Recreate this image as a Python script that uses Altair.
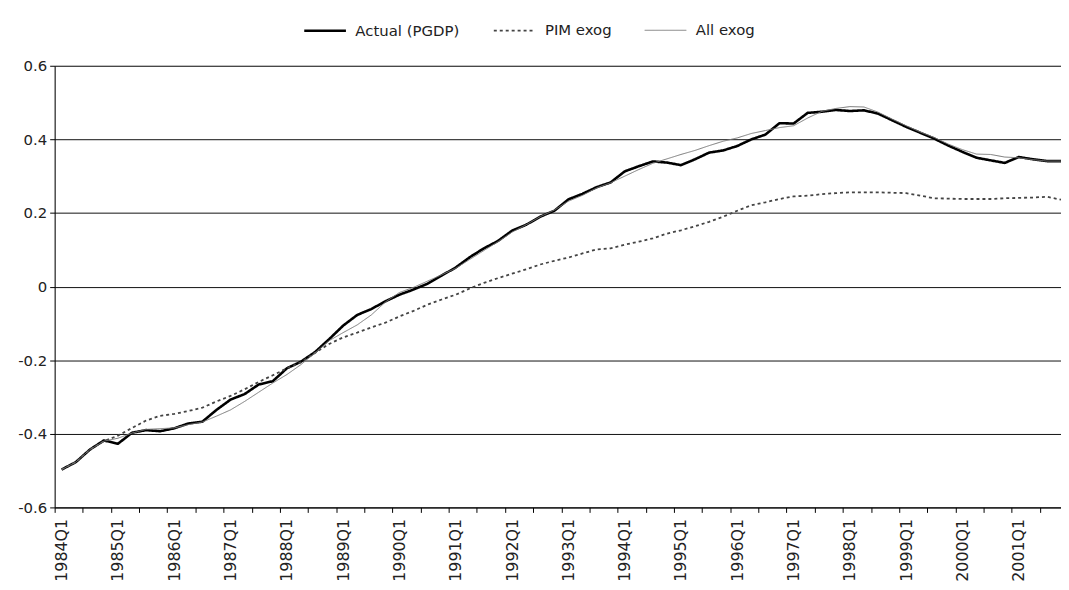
import json
import altair as alt
import pandas as pd

quarters = [f"{y}Q{q}" for y in range(1984, 2002) for q in range(1, 5)]

series_names = ["Actual (PGDP)", "PIM exog", "All exog"]

actual = [-0.497, -0.477, -0.443, -0.418, -0.427, -0.397, -0.390, -0.393, -0.385, -0.372,
          -0.367, -0.335, -0.307, -0.292, -0.266, -0.257, -0.222, -0.204, -0.178, -0.143,
          -0.106, -0.077, -0.061, -0.040, -0.022, -0.008, 0.008, 0.030, 0.052, 0.080,
          0.104, 0.124, 0.152, 0.168, 0.190, 0.206, 0.237, 0.252, 0.270, 0.283,
          0.313, 0.327, 0.340, 0.337, 0.330, 0.346, 0.364, 0.370, 0.382, 0.400,
          0.413, 0.444, 0.443, 0.472, 0.475, 0.480, 0.477, 0.479, 0.470, 0.452,
          0.434, 0.418, 0.402, 0.383, 0.366, 0.350, 0.343, 0.336, 0.352, 0.346,
          0.341, 0.341]

pim_exog = [-0.497, -0.477, -0.443, -0.420, -0.405, -0.384, -0.364, -0.351, -0.346, -0.338,
            -0.329, -0.312, -0.297, -0.279, -0.259, -0.241, -0.222, -0.206, -0.180, -0.156,
            -0.138, -0.125, -0.111, -0.098, -0.081, -0.066, -0.049, -0.035, -0.022, -0.005,
            0.010, 0.023, 0.035, 0.047, 0.060, 0.070, 0.079, 0.090, 0.101, 0.104,
            0.114, 0.122, 0.131, 0.144, 0.153, 0.164, 0.176, 0.190, 0.206, 0.221,
            0.229, 0.238, 0.245, 0.247, 0.251, 0.254, 0.256, 0.256, 0.256, 0.255,
            0.254, 0.247, 0.240, 0.239, 0.238, 0.238, 0.238, 0.240, 0.241, 0.242,
            0.244, 0.236]

all_exog = [-0.497, -0.477, -0.443, -0.420, -0.412, -0.398, -0.388, -0.386, -0.384, -0.375,
            -0.368, -0.352, -0.335, -0.312, -0.287, -0.262, -0.239, -0.212, -0.180, -0.147,
            -0.125, -0.104, -0.077, -0.042, -0.016, -0.002, 0.015, 0.032, 0.050, 0.074,
            0.098, 0.122, 0.148, 0.168, 0.190, 0.208, 0.232, 0.248, 0.268, 0.282,
            0.300, 0.318, 0.335, 0.347, 0.359, 0.370, 0.383, 0.395, 0.404, 0.416,
            0.424, 0.432, 0.437, 0.458, 0.476, 0.484, 0.489, 0.488, 0.474, 0.455,
            0.437, 0.420, 0.405, 0.387, 0.372, 0.360, 0.359, 0.352, 0.350, 0.345,
            0.341, 0.341]

y_ticks = [-0.6, -0.4, -0.2, 0.0, 0.2, 0.4, 0.6]

rows = []
for k, (name, vals) in enumerate(zip(series_names, [actual, pim_exog, all_exog])):
    for i, v in enumerate(vals):
        rows.append({"i": i, "quarter": quarters[i], "series": name, "value": v, "ord": k})
df = pd.DataFrame(rows)

W, H = 1014, 445
n_dom = [-0.5, 71.0]
px_per_q = W / (n_dom[1] - n_dom[0])

x_tick_vals = [i - 0.5 for i in range(0, 72, 2)]
label_expr = (
    "(round(datum.value + 0.5) % 4 == 0) ? "
    + json.dumps(quarters)
    + "[round(datum.value + 0.5)] : ''"
)

FONT = "DejaVu Sans"

chart = (
    alt.Chart(df)
    .mark_line(strokeJoin="round", clip=True)
    .encode(
        x=alt.X(
            "i:Q",
            scale=alt.Scale(domain=n_dom, nice=False, zero=False),
            axis=alt.Axis(
                values=x_tick_vals,
                labelExpr=label_expr,
                labelAngle=-90,
                labelOffset=px_per_q / 2,
                labelOverlap=False,
                labelFlush=False,
                labelBound=False,
                labelPadding=6,
                tickSize=5,
                tickColor="#000",
                domainColor="#000",
                grid=False,
                title=None,
                labelFont=FONT,
                labelFontSize=16,
                labelColor="#222",
            ),
        ),
        y=alt.Y(
            "value:Q",
            scale=alt.Scale(domain=[-0.6, 0.6], nice=False, zero=False),
            axis=alt.Axis(
                values=y_ticks,
                labelExpr="datum.value == 0 ? '0' : (datum.value < 0 ? '-' : '') + format(abs(datum.value), '.1f')",
                grid=True,
                gridColor="#111",
                gridWidth=1,
                tickSize=5,
                tickColor="#000",
                domainColor="#000",
                title=None,
                labelPadding=3,
                labelFont=FONT,
                labelFontSize=15,
                labelColor="#222",
            ),
        ),
        color=alt.Color(
            "series:N",
            scale=alt.Scale(domain=series_names, range=["#000000", "#444444", "#7a7a7a"]),
            legend=alt.Legend(
                title=None,
                orient="none",
                legendX=250,
                legendY=-58,
                direction="horizontal",
                columns=3,
                symbolType="stroke",
                symbolSize=1764,
                labelOffset=8,
                columnPadding=30,
                padding=0,
                labelFont=FONT,
                labelFontSize=15,
                labelColor="#222",
            ),
        ),
        strokeDash=alt.StrokeDash(
            "series:N",
            scale=alt.Scale(domain=series_names, range=[[1, 0], [3, 3], [1, 0]]),
            legend=None,
        ),
        strokeWidth=alt.StrokeWidth(
            "series:N",
            scale=alt.Scale(domain=series_names, range=[2.6, 1.0, 1.0]),
            legend=None,
        ),
        order=alt.Order("ord:Q"),
    )
    .properties(
        width=W,
        height=H,
        autosize=alt.AutoSizeParams(type="none"),
        padding={"left": 47, "top": 56, "right": 0, "bottom": 80},
    )
    .configure_view(stroke=None)
    .configure(background="white")
)

chart.save("out.html", embed_options={"renderer": "svg", "actions": False})
